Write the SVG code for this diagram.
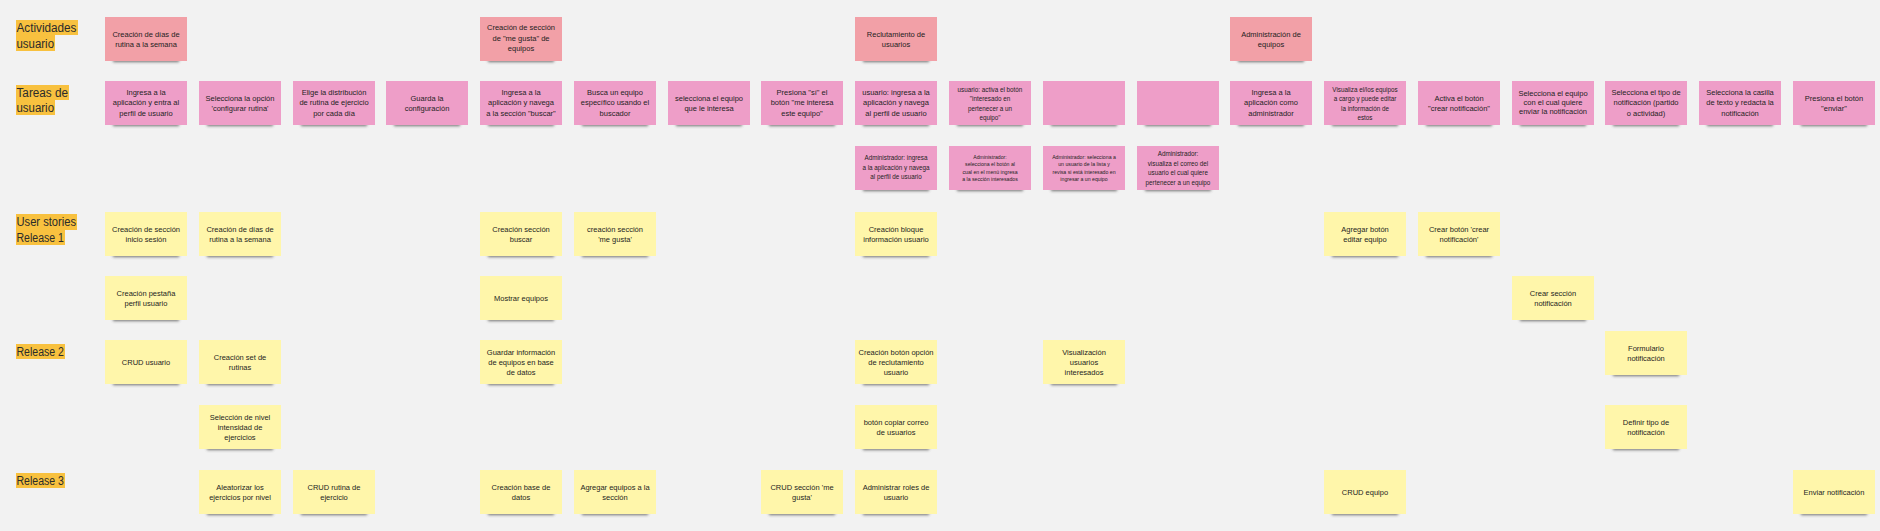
<svg xmlns="http://www.w3.org/2000/svg" width="1880" height="531" viewBox="0 0 1880 531">
<style>
.bg{fill:#f2f2f2}
.hl{fill:#f8c13f}
.lbl{font-family:"Liberation Sans",Arial,sans-serif;font-size:12px;fill:#2b2b2b}
.act{fill:#f2a0a7}
.task{fill:#ee9ec8}
.us{fill:#fff6aa}
.sh{fill:#3a3a3a;opacity:0.7;filter:url(#blur)}
.t{font-family:"Liberation Sans",Arial,sans-serif;font-size:7.5px;fill:#1e1e1e;text-anchor:middle}
.s6{font-size:6.3px}
.s5{font-size:5.2px}
</style>
<defs>
<filter id="blur" x="-20%" y="-100%" width="140%" height="300%"><feGaussianBlur stdDeviation="1.6"/></filter>
</defs>
<rect class="bg" x="0" y="0" width="1880" height="531"/>

<g id="labels">
<rect class="hl" x="16" y="20" width="62" height="15"/><rect class="hl" x="16" y="35" width="39" height="16"/>
<text class="lbl" x="16.5" y="32" textLength="60" lengthAdjust="spacingAndGlyphs">Actividades</text><text class="lbl" x="16.5" y="48" textLength="37.5" lengthAdjust="spacingAndGlyphs">usuario</text>
<rect class="hl" x="16" y="85" width="53" height="15"/><rect class="hl" x="16" y="100" width="39" height="15"/>
<text class="lbl" x="16.5" y="97" textLength="51.5" lengthAdjust="spacingAndGlyphs">Tareas de</text><text class="lbl" x="16.5" y="112" textLength="37.5" lengthAdjust="spacingAndGlyphs">usuario</text>
<rect class="hl" x="16" y="214" width="61" height="16"/><rect class="hl" x="16" y="230" width="49" height="15"/>
<text class="lbl" x="16.5" y="226" textLength="59.5" lengthAdjust="spacingAndGlyphs">User stories</text><text class="lbl" x="16.5" y="242" textLength="47.5" lengthAdjust="spacingAndGlyphs">Release 1</text>
<rect class="hl" x="16" y="344" width="49" height="15"/>
<text class="lbl" x="16.5" y="356" textLength="47.5" lengthAdjust="spacingAndGlyphs">Release 2</text>
<rect class="hl" x="16" y="473" width="49" height="15"/>
<text class="lbl" x="16.5" y="485" textLength="47.5" lengthAdjust="spacingAndGlyphs">Release 3</text>
</g>

<g id="connectors"></g>

<!-- Activities -->
<g id="a1"><rect class="sh" x="113" y="55" width="66" height="7"/><rect class="act" x="105" y="17" width="82" height="44"/><text class="t"><tspan x="146" y="36.5">Creación de días de</tspan><tspan x="146" y="46.5">rutina a la semana</tspan></text></g>
<g id="a5"><rect class="sh" x="488" y="55" width="66" height="7"/><rect class="act" x="480" y="17" width="82" height="44"/><text class="t"><tspan x="521" y="30">Creación de sección</tspan><tspan x="521" y="40.5">de "me gusta" de</tspan><tspan x="521" y="51">equipos</tspan></text></g>
<g id="a9"><rect class="sh" x="863" y="55" width="66" height="7"/><rect class="act" x="855" y="17" width="82" height="44"/><text class="t"><tspan x="896" y="36.5">Reclutamiento de</tspan><tspan x="896" y="46.5">usuarios</tspan></text></g>
<g id="a13"><rect class="sh" x="1238" y="55" width="66" height="7"/><rect class="act" x="1230" y="17" width="82" height="44"/><text class="t"><tspan x="1271" y="36.5">Administración de</tspan><tspan x="1271" y="46.5">equipos</tspan></text></g>

<!-- Tasks -->
<g id="t1"><rect class="sh" x="113" y="119" width="66" height="7"/><rect class="task" x="105" y="81" width="82" height="44"/><text class="t"><tspan x="146" y="94.5">Ingresa a la</tspan><tspan x="146" y="105">aplicación y entra al</tspan><tspan x="146" y="115.5">perfil de usuario</tspan></text></g>
<g id="t2"><rect class="sh" x="207" y="119" width="66" height="7"/><rect class="task" x="199" y="81" width="82" height="44"/><text class="t"><tspan x="240" y="100.5">Selecciona la opción</tspan><tspan x="240" y="110.5">'configurar rutina'</tspan></text></g>
<g id="t3"><rect class="sh" x="301" y="119" width="66" height="7"/><rect class="task" x="293" y="81" width="82" height="44"/><text class="t"><tspan x="334" y="94.5">Elige la distribución</tspan><tspan x="334" y="105">de rutina de ejercicio</tspan><tspan x="334" y="115.5">por cada día</tspan></text></g>
<g id="t4"><rect class="sh" x="394" y="119" width="66" height="7"/><rect class="task" x="386" y="81" width="82" height="44"/><text class="t"><tspan x="427" y="100.5">Guarda la</tspan><tspan x="427" y="110.5">configuración</tspan></text></g>
<g id="t5"><rect class="sh" x="488" y="119" width="66" height="7"/><rect class="task" x="480" y="81" width="82" height="44"/><text class="t"><tspan x="521" y="94.5">Ingresa a la</tspan><tspan x="521" y="105">aplicación y navega</tspan><tspan x="521" y="115.5">a la sección "buscar"</tspan></text></g>
<g id="t6"><rect class="sh" x="582" y="119" width="66" height="7"/><rect class="task" x="574" y="81" width="82" height="44"/><text class="t"><tspan x="615" y="94.5">Busca un equipo</tspan><tspan x="615" y="105">específico usando el</tspan><tspan x="615" y="115.5">buscador</tspan></text></g>
<g id="t7"><rect class="sh" x="676" y="119" width="66" height="7"/><rect class="task" x="668" y="81" width="82" height="44"/><text class="t"><tspan x="709" y="100.5">selecciona el equipo</tspan><tspan x="709" y="110.5">que le interesa</tspan></text></g>
<g id="t8"><rect class="sh" x="769" y="119" width="66" height="7"/><rect class="task" x="761" y="81" width="82" height="44"/><text class="t"><tspan x="802" y="94.5">Presiona "sí" el</tspan><tspan x="802" y="105">botón "me interesa</tspan><tspan x="802" y="115.5">este equipo"</tspan></text></g>
<g id="t9"><rect class="sh" x="863" y="119" width="66" height="7"/><rect class="task" x="855" y="81" width="82" height="44"/><text class="t"><tspan x="896" y="94.5">usuario: ingresa a la</tspan><tspan x="896" y="105">aplicación y navega</tspan><tspan x="896" y="115.5">al perfil de usuario</tspan></text></g>
<g id="t10"><rect class="sh" x="957" y="119" width="66" height="7"/><rect class="task" x="949" y="81" width="82" height="44"/><text class="t s6"><tspan x="990" y="91.5">usuario: activa el botón</tspan><tspan x="990" y="101">"interesado en</tspan><tspan x="990" y="110.5">pertenecer a un</tspan><tspan x="990" y="120">equipo"</tspan></text></g>
<g id="t11"><rect class="sh" x="1051" y="119" width="66" height="7"/><rect class="task" x="1043" y="81" width="82" height="44"/></g>
<g id="t12"><rect class="sh" x="1145" y="119" width="66" height="7"/><rect class="task" x="1137" y="81" width="82" height="44"/></g>
<g id="t13"><rect class="sh" x="1238" y="119" width="66" height="7"/><rect class="task" x="1230" y="81" width="82" height="44"/><text class="t"><tspan x="1271" y="94.5">Ingresa a la</tspan><tspan x="1271" y="105">aplicación como</tspan><tspan x="1271" y="115.5">administrador</tspan></text></g>
<g id="t14"><rect class="sh" x="1332" y="119" width="66" height="7"/><rect class="task" x="1324" y="81" width="82" height="44"/><text class="t s6"><tspan x="1365" y="91.5">Visualiza el/los equipos</tspan><tspan x="1365" y="101">a cargo y puede editar</tspan><tspan x="1365" y="110.5">la información de</tspan><tspan x="1365" y="120">estos</tspan></text></g>
<g id="t15"><rect class="sh" x="1426" y="119" width="66" height="7"/><rect class="task" x="1418" y="81" width="82" height="44"/><text class="t"><tspan x="1459" y="100.5">Activa el botón</tspan><tspan x="1459" y="110.5">"crear notificación"</tspan></text></g>
<g id="t16"><rect class="sh" x="1520" y="119" width="66" height="7"/><rect class="task" x="1512" y="81" width="82" height="44"/><text class="t"><tspan x="1553" y="96">Selecciona el equipo</tspan><tspan x="1553" y="105">con el cual quiere</tspan><tspan x="1553" y="114">enviar la notificación</tspan></text></g>
<g id="t17"><rect class="sh" x="1613" y="119" width="66" height="7"/><rect class="task" x="1605" y="81" width="82" height="44"/><text class="t"><tspan x="1646" y="94.5">Selecciona el tipo de</tspan><tspan x="1646" y="105">notificación (partido</tspan><tspan x="1646" y="115.5">o actividad)</tspan></text></g>
<g id="t18"><rect class="sh" x="1707" y="119" width="66" height="7"/><rect class="task" x="1699" y="81" width="82" height="44"/><text class="t"><tspan x="1740" y="94.5">Selecciona la casilla</tspan><tspan x="1740" y="105">de texto y redacta la</tspan><tspan x="1740" y="115.5">notificación</tspan></text></g>
<g id="t19"><rect class="sh" x="1801" y="119" width="66" height="7"/><rect class="task" x="1793" y="81" width="82" height="44"/><text class="t"><tspan x="1834" y="100.5">Presiona el botón</tspan><tspan x="1834" y="110.5">"enviar"</tspan></text></g>

<!-- Admin tasks -->
<g id="m9"><rect class="sh" x="863" y="184" width="66" height="7"/><rect class="task" x="855" y="146" width="82" height="44"/><text class="t s6"><tspan x="896" y="160">Administrador: ingresa</tspan><tspan x="896" y="169.5">a la aplicación y navega</tspan><tspan x="896" y="179">al perfil de usuario</tspan></text></g>
<g id="m10"><rect class="sh" x="957" y="184" width="66" height="7"/><rect class="task" x="949" y="146" width="82" height="44"/><text class="t s5"><tspan x="990" y="158.5">Administrador:</tspan><tspan x="990" y="166">selecciona el botón al</tspan><tspan x="990" y="173.5">cual en el menú ingresa</tspan><tspan x="990" y="181">a la sección interesados</tspan></text></g>
<g id="m11"><rect class="sh" x="1051" y="184" width="66" height="7"/><rect class="task" x="1043" y="146" width="82" height="44"/><text class="t s5"><tspan x="1084" y="158.5">Administrador: selecciona a</tspan><tspan x="1084" y="166">un usuario de la lista y</tspan><tspan x="1084" y="173.5">revisa si está interesado en</tspan><tspan x="1084" y="181">ingresar a un equipo</tspan></text></g>
<g id="m12"><rect class="sh" x="1145" y="184" width="66" height="7"/><rect class="task" x="1137" y="146" width="82" height="44"/><text class="t s6"><tspan x="1178" y="156">Administrador:</tspan><tspan x="1178" y="165.5">visualiza el correo del</tspan><tspan x="1178" y="175">usuario el cual quiere</tspan><tspan x="1178" y="184.5">pertenecer a un equipo</tspan></text></g>

<!-- Release 1 -->
<g id="r1_1"><rect class="sh" x="113" y="250" width="66" height="7"/><rect class="us" x="105" y="212" width="82" height="44"/><text class="t"><tspan x="146" y="231.5">Creación de sección</tspan><tspan x="146" y="241.5">inicio sesión</tspan></text></g>
<g id="r1_2"><rect class="sh" x="207" y="250" width="66" height="7"/><rect class="us" x="199" y="212" width="82" height="44"/><text class="t"><tspan x="240" y="231.5">Creación de días de</tspan><tspan x="240" y="241.5">rutina a la semana</tspan></text></g>
<g id="r1_5"><rect class="sh" x="488" y="250" width="66" height="7"/><rect class="us" x="480" y="212" width="82" height="44"/><text class="t"><tspan x="521" y="231.5">Creación sección</tspan><tspan x="521" y="241.5">buscar</tspan></text></g>
<g id="r1_6"><rect class="sh" x="582" y="250" width="66" height="7"/><rect class="us" x="574" y="212" width="82" height="44"/><text class="t"><tspan x="615" y="231.5">creación sección</tspan><tspan x="615" y="241.5">'me gusta'</tspan></text></g>
<g id="r1_9"><rect class="sh" x="863" y="250" width="66" height="7"/><rect class="us" x="855" y="212" width="82" height="44"/><text class="t"><tspan x="896" y="231.5">Creación bloque</tspan><tspan x="896" y="241.5">información usuario</tspan></text></g>
<g id="r1_14"><rect class="sh" x="1332" y="250" width="66" height="7"/><rect class="us" x="1324" y="212" width="82" height="44"/><text class="t"><tspan x="1365" y="231.5">Agregar botón</tspan><tspan x="1365" y="241.5">editar equipo</tspan></text></g>
<g id="r1_15"><rect class="sh" x="1426" y="250" width="66" height="7"/><rect class="us" x="1418" y="212" width="82" height="44"/><text class="t"><tspan x="1459" y="231.5">Crear botón 'crear</tspan><tspan x="1459" y="241.5">notificación'</tspan></text></g>
<g id="r1b_1"><rect class="sh" x="113" y="314" width="66" height="7"/><rect class="us" x="105" y="276" width="82" height="44"/><text class="t"><tspan x="146" y="295.5">Creación pestaña</tspan><tspan x="146" y="305.5">perfil usuario</tspan></text></g>
<g id="r1b_5"><rect class="sh" x="488" y="314" width="66" height="7"/><rect class="us" x="480" y="276" width="82" height="44"/><text class="t"><tspan x="521" y="300.5">Mostrar equipos</tspan></text></g>
<g id="r1b_16"><rect class="sh" x="1520" y="314" width="66" height="7"/><rect class="us" x="1512" y="276" width="82" height="44"/><text class="t"><tspan x="1553" y="295.5">Crear sección</tspan><tspan x="1553" y="305.5">notificación</tspan></text></g>

<!-- Release 2 -->
<g id="r2_1"><rect class="sh" x="113" y="378" width="66" height="7"/><rect class="us" x="105" y="340" width="82" height="44"/><text class="t"><tspan x="146" y="364.5">CRUD usuario</tspan></text></g>
<g id="r2_2"><rect class="sh" x="207" y="378" width="66" height="7"/><rect class="us" x="199" y="340" width="82" height="44"/><text class="t"><tspan x="240" y="359.5">Creación set de</tspan><tspan x="240" y="369.5">rutinas</tspan></text></g>
<g id="r2_5"><rect class="sh" x="488" y="378" width="66" height="7"/><rect class="us" x="480" y="340" width="82" height="44"/><text class="t"><tspan x="521" y="354.5">Guardar información</tspan><tspan x="521" y="364.5">de equipos en base</tspan><tspan x="521" y="374.5">de datos</tspan></text></g>
<g id="r2_9"><rect class="sh" x="863" y="378" width="66" height="7"/><rect class="us" x="855" y="340" width="82" height="44"/><text class="t"><tspan x="896" y="354.5">Creación botón opción</tspan><tspan x="896" y="364.5">de reclutamiento</tspan><tspan x="896" y="374.5">usuario</tspan></text></g>
<g id="r2_11"><rect class="sh" x="1051" y="378" width="66" height="7"/><rect class="us" x="1043" y="340" width="82" height="44"/><text class="t"><tspan x="1084" y="354.5">Visualización</tspan><tspan x="1084" y="364.5">usuarios</tspan><tspan x="1084" y="374.5">interesados</tspan></text></g>
<g id="r2_17"><rect class="sh" x="1613" y="369" width="66" height="7"/><rect class="us" x="1605" y="331" width="82" height="44"/><text class="t"><tspan x="1646" y="350.5">Formulario</tspan><tspan x="1646" y="360.5">notificación</tspan></text></g>
<g id="r2b_2"><rect class="sh" x="207" y="443" width="66" height="7"/><rect class="us" x="199" y="405" width="82" height="44"/><text class="t"><tspan x="240" y="419.5">Selección de nivel</tspan><tspan x="240" y="429.5">intensidad de</tspan><tspan x="240" y="439.5">ejercicios</tspan></text></g>
<g id="r2b_9"><rect class="sh" x="863" y="443" width="66" height="7"/><rect class="us" x="855" y="405" width="82" height="44"/><text class="t"><tspan x="896" y="424.5">botón copiar correo</tspan><tspan x="896" y="434.5">de usuarios</tspan></text></g>
<g id="r2b_17"><rect class="sh" x="1613" y="443" width="66" height="7"/><rect class="us" x="1605" y="405" width="82" height="44"/><text class="t"><tspan x="1646" y="424.5">Definir tipo de</tspan><tspan x="1646" y="434.5">notificación</tspan></text></g>

<!-- Release 3 -->
<g id="r3_2"><rect class="sh" x="207" y="508" width="66" height="7"/><rect class="us" x="199" y="470" width="82" height="44"/><text class="t"><tspan x="240" y="489.5">Aleatorizar los</tspan><tspan x="240" y="499.5">ejercicios por nivel</tspan></text></g>
<g id="r3_3"><rect class="sh" x="301" y="508" width="66" height="7"/><rect class="us" x="293" y="470" width="82" height="44"/><text class="t"><tspan x="334" y="489.5">CRUD rutina de</tspan><tspan x="334" y="499.5">ejercicio</tspan></text></g>
<g id="r3_5"><rect class="sh" x="488" y="508" width="66" height="7"/><rect class="us" x="480" y="470" width="82" height="44"/><text class="t"><tspan x="521" y="489.5">Creación base de</tspan><tspan x="521" y="499.5">datos</tspan></text></g>
<g id="r3_6"><rect class="sh" x="582" y="508" width="66" height="7"/><rect class="us" x="574" y="470" width="82" height="44"/><text class="t"><tspan x="615" y="489.5">Agregar equipos a la</tspan><tspan x="615" y="499.5">sección</tspan></text></g>
<g id="r3_8"><rect class="sh" x="769" y="508" width="66" height="7"/><rect class="us" x="761" y="470" width="82" height="44"/><text class="t"><tspan x="802" y="489.5">CRUD sección 'me</tspan><tspan x="802" y="499.5">gusta'</tspan></text></g>
<g id="r3_9"><rect class="sh" x="863" y="508" width="66" height="7"/><rect class="us" x="855" y="470" width="82" height="44"/><text class="t"><tspan x="896" y="489.5">Administrar roles de</tspan><tspan x="896" y="499.5">usuario</tspan></text></g>
<g id="r3_14"><rect class="sh" x="1332" y="508" width="66" height="7"/><rect class="us" x="1324" y="470" width="82" height="44"/><text class="t"><tspan x="1365" y="494.5">CRUD equipo</tspan></text></g>
<g id="r3_19"><rect class="sh" x="1801" y="508" width="66" height="7"/><rect class="us" x="1793" y="470" width="82" height="44"/><text class="t"><tspan x="1834" y="494.5">Enviar notificación</tspan></text></g>
</svg>
